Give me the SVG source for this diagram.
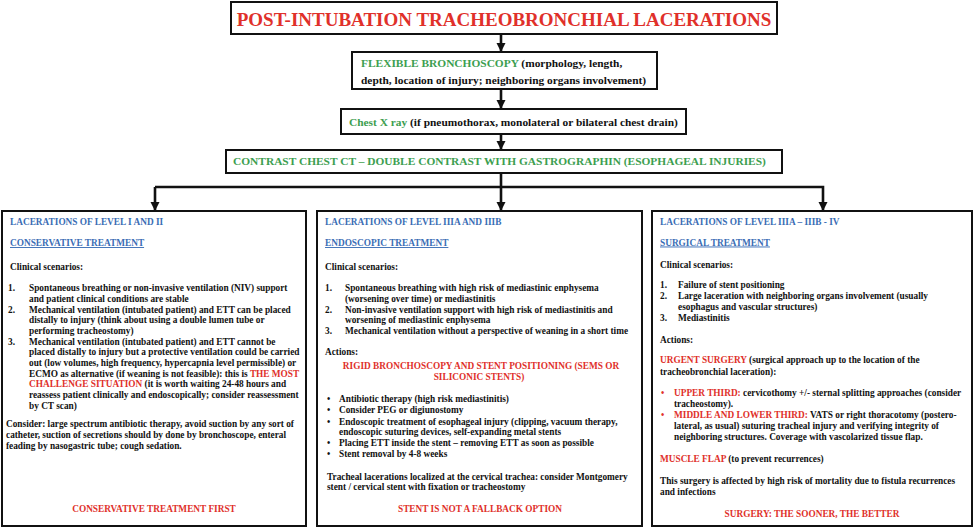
<svg xmlns="http://www.w3.org/2000/svg" width="975" height="531" viewBox="0 0 975 531">
<defs>
<style>
text{font-family:"Liberation Serif","Times New Roman",serif;font-weight:bold;fill:#111;}
.box{fill:#fff;stroke:#111;stroke-width:2;}
.top{font-size:11.4px;}
.t{font-size:9.3px;}
.r{fill:#e0302a;}
.g{fill:#3c9e4f;}
.b{fill:#3a6db5;}
.u{text-decoration:underline;}
.c{text-anchor:middle;}
.conn{fill:none;stroke:#111;stroke-width:2.6;}
</style>
<marker id="ah" viewBox="0 0 10 10" refX="10" refY="5" markerWidth="3.6" markerHeight="3.6" orient="auto" markerUnits="strokeWidth">
<path d="M0,0 L10,5 L0,10 Z" fill="#111"/>
</marker>
</defs>
<rect width="975" height="531" fill="#fff"/>

<g id="connectors">
<line class="conn" x1="501" y1="34" x2="501" y2="52" marker-end="url(#ah)"/>
<line class="conn" x1="501" y1="89" x2="501" y2="109" marker-end="url(#ah)"/>
<line class="conn" x1="501" y1="134" x2="501" y2="150" marker-end="url(#ah)"/>
<polyline class="conn" points="501,173 501,187"/>
<polyline class="conn" points="155,187 823,187 823,211" marker-end="url(#ah)"/>
<line class="conn" x1="155" y1="187" x2="155" y2="211" marker-end="url(#ah)"/>
<line class="conn" x1="501" y1="187" x2="501" y2="211" marker-end="url(#ah)"/>
</g>

<g id="title">
<rect class="box" x="231" y="2" width="546" height="32"/>
<text class="r c" x="504" y="26" style="font-size:19px">POST-INTUBATION TRACHEOBRONCHIAL LACERATIONS</text>
</g>

<g id="bronchoscopy">
<rect class="box" x="352" y="52" width="305" height="37"/>
<text class="top" x="361" y="67"><tspan class="g">FLEXIBLE BRONCHOSCOPY</tspan>  (morphology, length,</text>
<text class="top" x="361" y="83.5">depth, location of injury; neighboring organs involvement)</text>
</g>

<g id="xray">
<rect class="box" x="341" y="109" width="345" height="25"/>
<text class="top" x="349" y="125.5"><tspan class="g">Chest X ray</tspan> (if pneumothorax, monolateral or bilateral chest drain)</text>
</g>

<g id="ct">
<rect class="box" x="226" y="150" width="556" height="23"/>
<text class="top g" x="233" y="165">CONTRAST CHEST CT – DOUBLE CONTRAST WITH GASTROGRAPHIN (ESOPHAGEAL INJURIES)</text>
</g>

<g id="level-1-2">
<rect class="box" x="2" y="211" width="304" height="315"/>
<text class="t b" x="10" y="225">LACERATIONS OF LEVEL I AND II</text>
<text class="t b u" x="10" y="246">CONSERVATIVE TREATMENT</text>
<text class="t" x="10" y="270">Clinical scenarios:</text>
<text class="t" x="8" y="291">1.</text>
<text class="t" x="29" y="291">Spontaneous breathing or  non-invasive ventilation (NIV) support</text>
<text class="t" x="29" y="302">and patient clinical conditions are stable</text>
<text class="t" x="8" y="312.5">2.</text>
<text class="t" x="29" y="312.5">Mechanical ventilation (intubated patient) and ETT can be placed</text>
<text class="t" x="29" y="323">distally to injury (think about using a double lumen tube or</text>
<text class="t" x="29" y="334">performing tracheostomy)</text>
<text class="t" x="8" y="344.5">3.</text>
<text class="t" x="29" y="344.5">Mechanical ventilation (intubated patient) and ETT cannot be</text>
<text class="t" x="29" y="355">placed distally to injury but a protective ventilation could be carried</text>
<text class="t" x="29" y="366">out (low volumes, high frequency, hypercapnia level permissible) or</text>
<text class="t" x="29" y="376.5">ECMO as alternative (if weaning is not feasible): this is <tspan class="r">THE MOST</tspan></text>
<text class="t" x="29" y="387"><tspan class="r">CHALLENGE SITUATION</tspan> (it is worth waiting 24-48 hours and</text>
<text class="t" x="29" y="398">reassess patient clinically and endoscopically; consider reassessment</text>
<text class="t" x="29" y="408.5">by CT scan)</text>
<text class="t" x="6" y="427">Consider: large spectrum antibiotic therapy, avoid suction by any sort of</text>
<text class="t" x="6" y="438">catheter, suction of secretions should by done by bronchoscope, enteral</text>
<text class="t" x="6" y="449">feading by nasogastric tube; cough sedation.</text>
<text class="t r c" x="154" y="512">CONSERVATIVE TREATMENT FIRST</text>
</g>

<g id="level-3ab">
<rect class="box" x="317" y="211" width="325" height="315"/>
<text class="t b" x="325" y="225">LACERATIONS OF LEVEL IIIA AND IIIB</text>
<text class="t b u" x="325" y="246">ENDOSCOPIC TREATMENT</text>
<text class="t" x="325" y="270">Clinical scenarios:</text>
<text class="t" x="325" y="291">1.</text>
<text class="t" x="345" y="291">Spontaneous breathing with high risk of mediastinic enphysema</text>
<text class="t" x="345" y="302">(worsening over time) or mediastinitis</text>
<text class="t" x="325" y="312.5">2.</text>
<text class="t" x="345" y="312.5">Non-invasive ventilation support with high risk of mediastinitis and</text>
<text class="t" x="345" y="323">worsening of mediastinic enphysema</text>
<text class="t" x="325" y="334">3.</text>
<text class="t" x="345" y="334">Mechanical ventilation without a perspective of weaning in a short time</text>
<text class="t" x="325" y="355">Actions:</text>
<text class="t r c" x="481" y="368.5">RIGID BRONCHOSCOPY AND STENT POSITIONING (SEMS OR</text>
<text class="t r c" x="479" y="379.5">SILICONIC STENTS)</text>
<text class="t" x="327" y="402">•</text>
<text class="t" x="339" y="402">Antibiotic therapy (high risk mediastinitis)</text>
<text class="t" x="327" y="413">•</text>
<text class="t" x="339" y="413">Consider PEG or digiunostomy</text>
<text class="t" x="327" y="424.5">•</text>
<text class="t" x="339" y="424.5">Endoscopic treatment of esophageal injury (clipping, vacuum therapy,</text>
<text class="t" x="339" y="435">endoscopic suturing devices, self-expanding metal stents</text>
<text class="t" x="327" y="446">•</text>
<text class="t" x="339" y="446">Placing ETT inside the stent – removing ETT as soon as possible</text>
<text class="t" x="327" y="457">•</text>
<text class="t" x="339" y="457">Stent removal by 4-8 weeks</text>
<text class="t" x="327" y="479.5">Tracheal lacerations localized at the cervical trachea: consider Montgomery</text>
<text class="t" x="327" y="490">stent / cervical stent with fixation or tracheostomy</text>
<text class="t r c" x="480" y="512">STENT IS NOT A FALLBACK OPTION</text>
</g>

<g id="level-3-4">
<rect class="box" x="652" y="211" width="320" height="315"/>
<text class="t b" x="660" y="225">LACERATIONS OF LEVEL IIIA – IIIB - IV</text>
<text class="t b u" x="660" y="245.5">SURGICAL TREATMENT</text>
<text class="t" x="660" y="267.5">Clinical scenarios:</text>
<text class="t" x="660" y="288">1.</text>
<text class="t" x="678" y="288">Failure of  stent positioning</text>
<text class="t" x="660" y="299">2.</text>
<text class="t" x="678" y="299">Large laceration with neighboring organs involvement (usually</text>
<text class="t" x="678" y="310">esophagus and vascular structures)</text>
<text class="t" x="660" y="321">3.</text>
<text class="t" x="678" y="321">Mediastinitis</text>
<text class="t" x="660" y="343">Actions:</text>
<text class="t" x="660" y="363"><tspan class="r">URGENT SURGERY</tspan> (surgical approach up to the location of the</text>
<text class="t" x="660" y="375">tracheobronchial laceration):</text>
<text class="t r" x="661" y="396">•</text>
<text class="t" x="674" y="396"><tspan class="r">UPPER THIRD:</tspan> cervicothomy +/- sternal splitting approaches (consider</text>
<text class="t" x="674" y="406.5">tracheostomy).</text>
<text class="t r" x="661" y="417.5">•</text>
<text class="t" x="674" y="417.5"><tspan class="r">MIDDLE AND LOWER THIRD:</tspan> VATS or right thoracotomy (postero-</text>
<text class="t" x="674" y="428.5">lateral, as usual) suturing tracheal injury and verifying integrity of</text>
<text class="t" x="674" y="439.5">neighboring structures.  Coverage with vascolarized tissue flap.</text>
<text class="t" x="660" y="462"><tspan class="r">MUSCLE FLAP</tspan> (to prevent recurrences)</text>
<text class="t" x="660" y="484">This surgery is affected by high risk of mortality due to fistula recurrences</text>
<text class="t" x="660" y="495">and infections</text>
<text class="t r c" x="812" y="517">SURGERY: THE SOONER, THE BETTER</text>
</g>
</svg>
